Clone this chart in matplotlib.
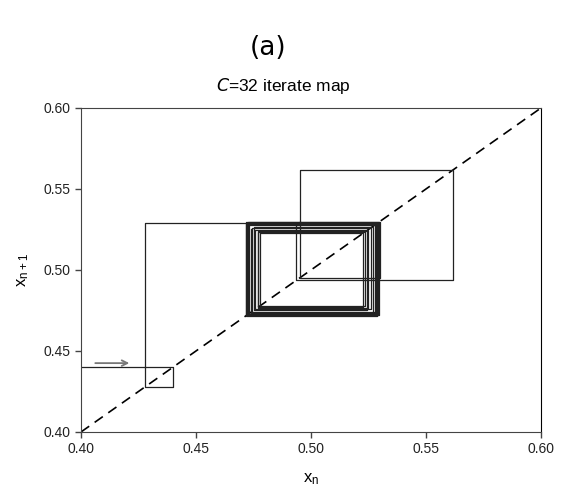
import numpy as np
import matplotlib
matplotlib.use('Agg')
from matplotlib import pyplot as plt

plt.rcParams['font.family'] = ['Liberation Sans', 'DejaVu Sans']

xs = [0.400, 0.440, 0.428, 0.5288,
      0.4716, 0.5296, 0.4722, 0.5287, 0.4731, 0.5276, 0.4742, 0.5262,
      0.4756, 0.5248, 0.4768, 0.5236, 0.4778, 0.5227,
      0.4770, 0.5242, 0.4750, 0.5268, 0.4726, 0.5298,
      0.4952, 0.5617, 0.4936, 0.5291,
      0.4719, 0.5281, 0.4737, 0.5255]

ticks = [0.40, 0.45, 0.50, 0.55, 0.60]
tick_labels = ['0.40', '0.45', '0.50', '0.55', '0.60']

# cobweb path
px = [xs[0]]
py = [xs[1]]
for i in range(1, len(xs) - 1):
    px += [xs[i], xs[i]]
    py += [xs[i], xs[i + 1]]

fig = plt.figure(figsize=(5.61, 4.88), dpi=100)
ax = fig.add_axes([0.1444, 0.1148, 0.820, 0.664])

ax.plot([0.4, 0.6], [0.4, 0.6], color='black', lw=1.2, dashes=(6, 4))
ax.plot(px, py, color='#222222', lw=0.9)
ax.annotate('', xy=(0.4222, 0.4425), xytext=(0.405, 0.4425),
            arrowprops=dict(arrowstyle='->', color='#777777', lw=1.3))

ax.set_xlim(0.40, 0.60)
ax.set_ylim(0.40, 0.60)
ax.set_xticks(ticks)
ax.set_xticklabels(tick_labels)
ax.set_yticks(ticks)
ax.set_yticklabels(tick_labels)
ax.tick_params(direction='out', length=4, width=1, labelsize=10,
               colors='#444444', labelcolor='#222222', top=False, right=False)
for s in ['left', 'bottom', 'top']:
    ax.spines[s].set_color('#444444')
ax.spines['right'].set_color('black')

ax.set_xlabel(r'$\mathregular{x_n}$', fontsize=12, labelpad=11)
ax.set_ylabel(r'$\mathregular{x_{n+1}}$', fontsize=12, labelpad=9)

fig.text(0.478, 0.902, '(a)', ha='center', va='center', fontsize=19,
         family='DejaVu Sans')
fig.text(0.505, 0.824, r'$\mathregular{\mathit{C}}$=32 iterate map',
         ha='center', va='center', fontsize=12.5)

fig.savefig('out.png', dpi=100)
